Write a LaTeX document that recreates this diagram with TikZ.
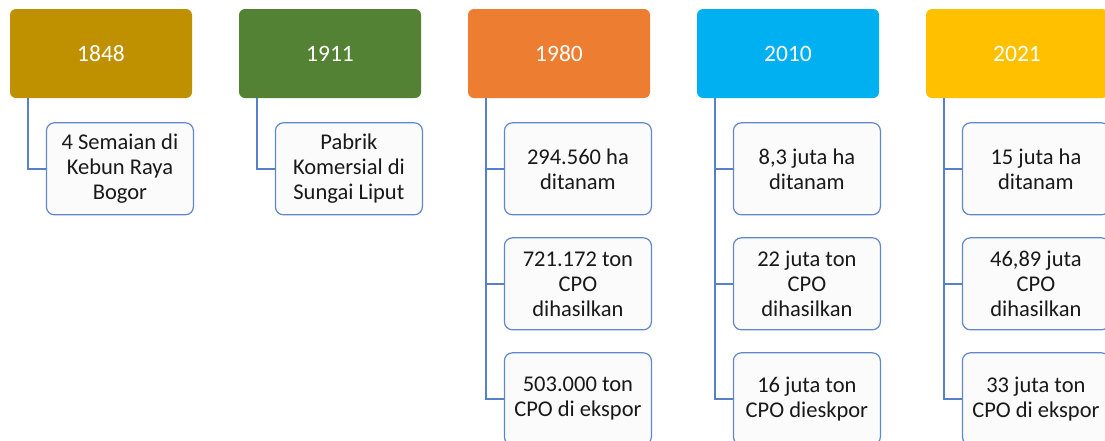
\documentclass[tikz,border=0pt]{standalone}
\usepackage{fontspec}
\setmainfont{Carlito}
\usetikzlibrary{positioning}

\definecolor{th1848}{HTML}{BF9000}
\definecolor{th1911}{HTML}{548235}
\definecolor{th1980}{HTML}{ED7D31}
\definecolor{th2010}{HTML}{00B0F0}
\definecolor{th2021}{HTML}{FFC000}
\definecolor{garis}{HTML}{4472C4}
\definecolor{isibg}{HTML}{FBFBFB}

\tikzset{
  tahun/.style={rounded corners=6pt, minimum width=182pt, minimum height=89pt,
    text=white, font=\fontsize{23.5}{28}\selectfont},
  isi/.style={draw=garis!85, fill=isibg, line width=1.2pt, rounded corners=8pt,
    minimum width=147pt, minimum height=92pt, align=center, text=black!90,
    font=\fontsize{22.5}{25}\selectfont},
  cabang/.style={draw=garis!90, line width=1.4pt},
  node distance=21.8pt
}

\begin{document}
\begin{tikzpicture}[x=1pt,y=-1pt]
\useasboundingbox (0,0) rectangle (1105,440);
\clip (0,0) rectangle (1105,440);

% tahun
\node[tahun, fill=th1848] (t1848) at (101,53.5) {1848};
\node[tahun, fill=th1911] (t1911) at (330,53.5) {1911};
\node[tahun, fill=th1980] (t1980) at (559,53.5) {1980};
\node[tahun, fill=th2010] (t2010) at (788,53.5) {2010};
\node[tahun, fill=th2021] (t2021) at (1017,53.5) {2021};

% isi
\node[isi, below right=24pt and 36pt of t1848.south west] (a1) {4 Semaian di\\Kebun Raya\\Bogor};

\node[isi, below right=24pt and 36pt of t1911.south west] (b1) {Pabrik\\Komersial di\\Sungai Liput};

\node[isi, below right=24pt and 36pt of t1980.south west] (c1) {294.560 ha\\ditanam};
\node[isi, below=of c1] (c2) {721.172 ton\\CPO\\dihasilkan};
\node[isi, below=of c2] (c3) {503.000 ton\\CPO di ekspor};

\node[isi, below right=24pt and 36pt of t2010.south west] (d1) {8,3 juta ha\\ditanam};
\node[isi, below=of d1] (d2) {22 juta ton\\CPO\\dihasilkan};
\node[isi, below=of d2] (d3) {16 juta ton\\CPO dieskpor};

\node[isi, below right=24pt and 36pt of t2021.south west] (e1) {15 juta ha\\ditanam};
\node[isi, below=of e1] (e2) {46,89 juta\\CPO\\dihasilkan};
\node[isi, below=of e2] (e3) {33 juta ton\\CPO di ekspor};

% cabang
\draw[cabang] ([xshift=18pt]t1848.south west) |- (a1.west);
\draw[cabang] ([xshift=18pt]t1911.south west) |- (b1.west);
\foreach \t/\k in {t1980/c, t2010/d, t2021/e} {
  \draw[cabang] ([xshift=18pt]\t.south west) |- (\k3.west);
  \draw[cabang] ([xshift=18pt]\t.south west) |- (\k2.west);
  \draw[cabang] ([xshift=18pt]\t.south west) |- (\k1.west);
}

\end{tikzpicture}
\end{document}
